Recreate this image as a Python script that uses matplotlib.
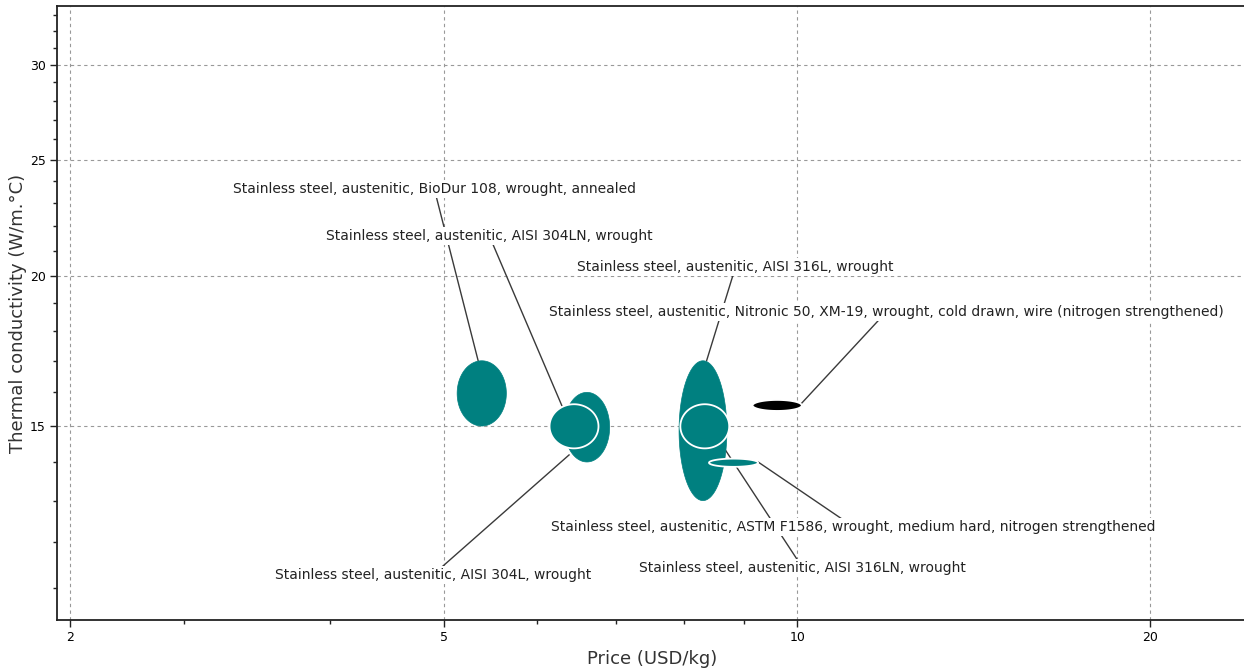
import numpy as np
import matplotlib
matplotlib.use("Agg")
import matplotlib.pyplot as plt
from matplotlib.ticker import FixedLocator, NullFormatter

# material records: price range (USD/kg) and thermal conductivity range (W/m.°C)
names = [
    "Stainless steel, austenitic, BioDur 108, wrought, annealed",
    "Stainless steel, austenitic, AISI 304L, wrought",
    "Stainless steel, austenitic, AISI 304LN, wrought",
    "Stainless steel, austenitic, AISI 316L, wrought",
    "Stainless steel, austenitic, AISI 316LN, wrought",
    "Stainless steel, austenitic, ASTM F1586, wrought, medium hard, nitrogen strengthened",
    "Stainless steel, austenitic, Nitronic 50, XM-19, wrought, cold drawn, wire (nitrogen strengthened)",
]
price_lo = [5.13, 6.33, 6.15, 7.93, 7.95, 8.41, 9.16]
price_hi = [5.65, 6.92, 6.77, 8.71, 8.75, 9.26, 10.09]
cond_lo = [15.0, 14.0, 14.37, 13.0, 14.37, 13.87, 15.44]
cond_hi = [17.0, 16.0, 15.64, 17.0, 15.64, 14.09, 15.77]
colors = ["#008080", "#008080", "#008080", "#008080", "#008080", "#008080", "#000000"]
outlined = [False, False, True, False, True, True, True]

# label placement (text centre) and where the leader line meets the bubble
label_x = [4.905, 4.89, 5.465, 8.86, 10.11, 11.17, 11.91]
label_y = [23.64, 11.27, 21.6, 20.36, 11.42, 12.36, 18.67]
anchor_x = [5.346, 6.39, 6.30, 8.37, 8.61, 9.26, 10.05]
anchor_y = [17.0, 14.19, 15.6, 17.0, 14.51, 14.0, 15.61]

xtick_vals = [2.4, 5, 10, 20]
xtick_labels = ["2", "5", "10", "20"]
xminor = [3, 4, 6, 7, 8, 9]
ytick_vals = [15, 20, 25, 30]
yminor = [11, 12, 13, 14, 16, 17, 18, 19, 21, 22, 23, 24, 26, 27, 28, 29, 31, 32, 33]

fig = plt.figure(figsize=(12.44, 6.68), dpi=100)
ax = fig.add_axes([0.0458, 0.072, 0.9562, 0.919])
ax.set_xscale("log")
ax.set_yscale("log")
ax.set_xlim(2.339, 24.15)
ax.set_ylim(10.34, 33.58)

# leader lines sit under the bubbles and the label boxes
for lx, ly, axx, ayy in zip(label_x, label_y, anchor_x, anchor_y):
    ax.plot([lx, axx], [ly, ayy], color="#3a3a3a", lw=1.0, zorder=2)

# bubbles are ellipses in log-log space
t = np.linspace(0, 2 * np.pi, 200)
for i in range(len(names)):
    cx = (np.log10(price_lo[i]) + np.log10(price_hi[i])) / 2
    rx = (np.log10(price_hi[i]) - np.log10(price_lo[i])) / 2
    cy = (np.log10(cond_lo[i]) + np.log10(cond_hi[i])) / 2
    ry = (np.log10(cond_hi[i]) - np.log10(cond_lo[i])) / 2
    ex = 10 ** (cx + rx * np.cos(t))
    ey = 10 ** (cy + ry * np.sin(t))
    if outlined[i]:
        ax.fill(ex, ey, facecolor=colors[i], edgecolor="white", lw=1.3, zorder=3)
    else:
        ax.fill(ex, ey, facecolor=colors[i], edgecolor=colors[i], lw=0.5, zorder=3)

for name, lx, ly in zip(names, label_x, label_y):
    ax.text(lx, ly, name, ha="center", va="center", fontsize=10, color="#222222",
            zorder=5, bbox=dict(facecolor="white", edgecolor="none", pad=1.5))

ax.xaxis.set_major_locator(FixedLocator(xtick_vals))
ax.set_xticklabels(xtick_labels)
ax.xaxis.set_minor_locator(FixedLocator(xminor))
ax.xaxis.set_minor_formatter(NullFormatter())
ax.yaxis.set_major_locator(FixedLocator(ytick_vals))
ax.set_yticklabels([str(v) for v in ytick_vals])
ax.yaxis.set_minor_locator(FixedLocator(yminor))
ax.yaxis.set_minor_formatter(NullFormatter())

ax.tick_params(which="major", length=5, width=1, labelsize=9, pad=3, color="#222222")
ax.tick_params(which="minor", length=3, width=1, color="#222222")
ax.grid(which="major", linestyle=(0, (3, 3)), color="#999999", lw=0.8, zorder=0)
ax.set_axisbelow(True)

for s in ["left", "bottom", "top"]:
    ax.spines[s].set_color("#222222")
    ax.spines[s].set_linewidth(1.3)
ax.spines["right"].set_visible(False)

ax.set_xlabel("Price (USD/kg)", fontsize=13, color="#333333", labelpad=4)
ax.set_ylabel("Thermal conductivity (W/m.°C)", fontsize=13, color="#333333", labelpad=2)

fig.savefig("out.png", dpi=100)
